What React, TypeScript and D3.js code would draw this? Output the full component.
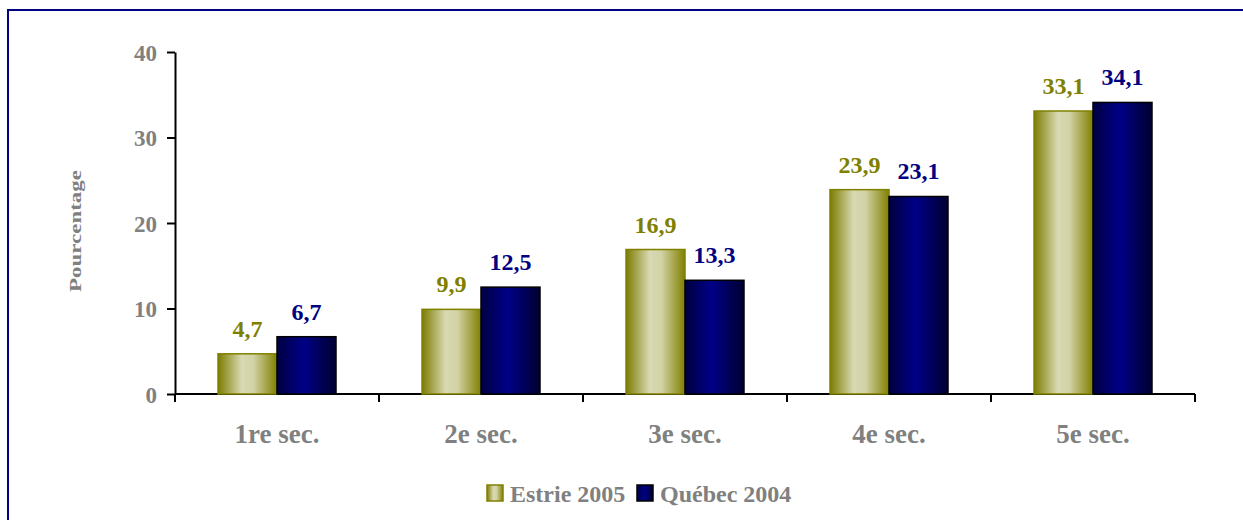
import React, { useEffect, useRef } from 'react';
import * as d3 from 'd3';

const categories = ['1re sec.', '2e sec.', '3e sec.', '4e sec.', '5e sec.'];
const seriesNames = ['Estrie 2005', 'Québec 2004'];
const estrie = [4.7, 9.9, 16.9, 23.9, 33.1];
const quebec = [6.7, 12.5, 13.3, 23.1, 34.1];
const yTicks = [0, 10, 20, 30, 40];

const FONT = 'Liberation Serif, Times New Roman, serif';

const App = () => {
  const ref = useRef<SVGSVGElement | null>(null);

  useEffect(() => {
    const svg = d3.select(ref.current);
    svg.selectAll('*').remove();
    const gray = '#808080';

    const txt = (sel: any, size: number) =>
      sel.attr('font-family', FONT).attr('font-size', size).attr('font-weight', 'bold');

    const defs = svg.append('defs');
    const gE = defs.append('linearGradient').attr('id', 'gE');
    [['0%', '#7c7c00'], ['40%', '#d9d9b3'], ['60%', '#d2d2a6'], ['100%', '#808000']].forEach(([o, c]) =>
      gE.append('stop').attr('offset', o).attr('stop-color', c));
    const gQ = defs.append('linearGradient').attr('id', 'gQ');
    [['0%', '#000040'], ['45%', '#000088'], ['100%', '#000030']].forEach(([o, c]) =>
      gQ.append('stop').attr('offset', o).attr('stop-color', c));

    // frame
    svg.append('rect').attr('x', 8).attr('y', 10).attr('width', 1250).attr('height', 520)
      .attr('fill', 'white').attr('stroke', '#000080').attr('stroke-width', 2);

    const left = 175, right = 1195, top = 52, bottom = 394;
    const x = d3.scaleBand().domain(categories).range([left, right]);
    const y = d3.scaleLinear().domain([0, 40]).range([bottom, top]);
    const barW = 59;

    const yAxis = svg.append('g').attr('transform', `translate(${left},0)`)
      .call(d3.axisLeft(y).tickValues(yTicks).tickSize(8).tickPadding(10).tickSizeOuter(0));
    yAxis.select('.domain').attr('stroke', 'black').attr('stroke-width', 2);
    yAxis.selectAll('line').attr('stroke', 'black').attr('stroke-width', 2);
    txt(yAxis.selectAll('text').attr('fill', gray).attr('dy', '0.36em'), 23);

    const xAxis = svg.append('g').attr('transform', `translate(0,${bottom})`)
      .call(d3.axisBottom(x).tickSize(0).tickFormat(() => ''));
    xAxis.select('.domain').attr('stroke', 'black').attr('stroke-width', 2).attr('d', `M${left},0H${right}`);
    const bounds = categories.map((c) => x(c) as number).concat([right]);
    svg.selectAll('.xt').data(bounds).enter().append('line')
      .attr('x1', (d) => d).attr('x2', (d) => d).attr('y1', bottom).attr('y2', bottom + 8)
      .attr('stroke', 'black').attr('stroke-width', 2);
    txt(svg.selectAll('.xl').data(categories).enter().append('text')
      .attr('x', (d) => (x(d) as number) + x.bandwidth() / 2).attr('y', bottom + 49)
      .attr('text-anchor', 'middle').attr('fill', gray)
      .text((d) => d), 27);

    const series = [
      { vals: estrie, fill: 'url(#gE)', stroke: '#808000', label: '#808000', off: -barW },
      { vals: quebec, fill: 'url(#gQ)', stroke: '#000000', label: '#000080', off: 0 },
    ];
    series.forEach((s) => {
      const cx = (i: number) => (x(categories[i]) as number) + x.bandwidth() / 2 + s.off;
      svg.append('g').selectAll('rect').data(s.vals).enter().append('rect')
        .attr('x', (d, i) => cx(i)).attr('y', (d) => y(d)).attr('width', barW)
        .attr('height', (d) => bottom - y(d)).attr('fill', s.fill)
        .attr('stroke', s.stroke).attr('stroke-width', 1.5);
      txt(svg.append('g').selectAll('text').data(s.vals).enter().append('text')
        .attr('x', (d, i) => cx(i) + barW / 2).attr('y', (d) => y(d) - 17)
        .attr('text-anchor', 'middle').attr('fill', s.label)
        .text((d) => d.toFixed(1).replace('.', ',')), 24);
    });

    txt(svg.append('text').attr('transform', 'translate(81,231) rotate(-90)')
      .attr('text-anchor', 'middle').attr('fill', gray)
      .attr('textLength', 122).attr('lengthAdjust', 'spacingAndGlyphs')
      .text('Pourcentage'), 17);

    // legend
    const legX = [487, 637];
    seriesNames.forEach((n, i) => {
      svg.append('rect').attr('x', legX[i]).attr('y', 485).attr('width', 16).attr('height', 16)
        .attr('fill', series[i].fill).attr('stroke', series[i].stroke).attr('stroke-width', 1.5);
      txt(svg.append('text').attr('x', legX[i] + 23).attr('y', 502).attr('fill', gray).text(n), 24);
    });
  }, []);

  return (
    <svg ref={ref} width={1243} height={520}
      style={{ position: 'absolute', left: 0, top: 0, display: 'block' }} />
  );
};

export default App;
